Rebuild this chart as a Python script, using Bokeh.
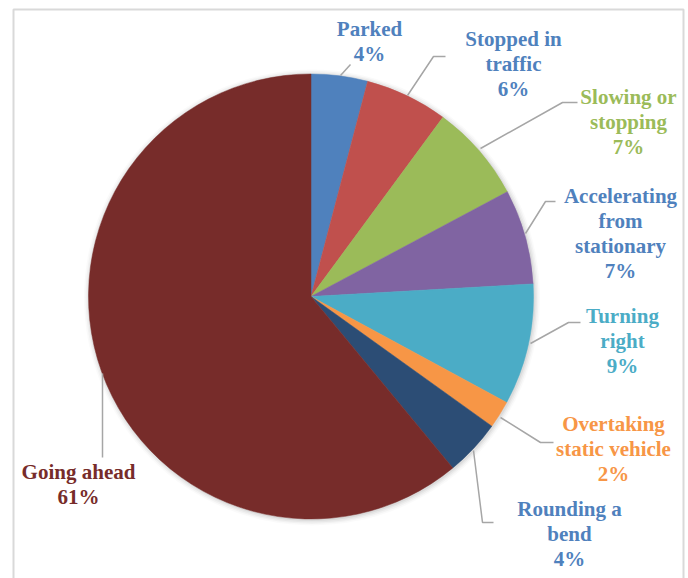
import math
from bokeh.plotting import figure
from bokeh.models import Range1d, ColumnDataSource
from bokeh.core.properties import value
from bokeh.embed import file_html
from bokeh.resources import INLINE

# ---- data ----
categories = ["Parked", "Stopped in traffic", "Slowing or stopping",
              "Accelerating from stationary", "Turning right",
              "Overtaking static vehicle", "Rounding a bend", "Going ahead"]
values = [4.1, 6.0, 7.1, 6.9, 8.8, 2.0, 4.1, 61.0]
slice_colors = ["#4F81BD", "#C0504D", "#9BBB59", "#8064A2", "#4BACC6",
                "#F79646", "#2C4D75", "#772C2A"]
label_lines = [["Parked"], ["Stopped in", "traffic"], ["Slowing or", "stopping"],
               ["Accelerating", "from", "stationary"], ["Turning", "right"],
               ["Overtaking", "static vehicle"], ["Rounding a", "bend"],
               ["Going ahead"]]
label_colors = ["#4F81BD", "#4F81BD", "#9BBB59", "#4F81BD", "#4BACC6",
                "#F79646", "#4F81BD", "#772C2A"]

# ---- layout (screen pixel positions) ----
W, H = 688, 578
def sx(x):
    return x
def sy(y):
    return H - y

CX, CY, R = 310.5, 296, 222.5
label_pos = [(369, 28), (513, 38), (628, 96), (620, 195), (622, 315),
             (613, 423), (569, 508), (78, 471)]
leaders = [
    [(340, 75), (350, 64)],
    [(407, 95), (433, 56), (445, 56)],
    [(480, 148), (562, 102), (577, 102)],
    [(525, 233), (545, 201), (555, 201)],
    [(530, 343), (568, 322), (580, 322)],
    [(500, 417), (540, 442), (553, 442)],
    [(473, 450), (482, 522), (493, 522)],
    [(102, 373), (102, 457)],
]
LINE_H = 25

p = figure(width=W, height=H, output_backend="svg", toolbar_location=None,
           x_range=Range1d(0, W), y_range=Range1d(0, H), min_border=0)
p.axis.visible = False
p.grid.visible = False
p.outline_line_color = None
p.background_fill_color = "white"

# chart border
p.line([sx(13), sx(13), sx(683), sx(683)], [sy(600), sy(9), sy(9), sy(600)],
       line_color="#D9D9D9", line_width=2)

# soft shadow
for i, a in enumerate([0.05, 0.04, 0.03, 0.02]):
    p.circle(x=sx(CX) + 1, y=sy(CY) - 1, radius=R + 1 + i * 1.5,
             fill_color="black", fill_alpha=a, line_color=None)

# wedges
total = sum(values)
starts, ends = [], []
cum = 0.0
for v in values:
    starts.append(math.pi / 2 - 2 * math.pi * cum / total)
    cum += v
    ends.append(math.pi / 2 - 2 * math.pi * cum / total)
src = ColumnDataSource(dict(start=starts, end=ends, color=slice_colors))
p.wedge(x=sx(CX), y=sy(CY), radius=R, start_angle="start", end_angle="end",
        direction="clock", fill_color="color", line_color="color",
        line_width=0.5, source=src)

# leader lines
for pts in leaders:
    p.line([sx(x) for x, _ in pts], [sy(y) for _, y in pts],
           line_color="#A6A6A6", line_width=1.5)

# labels
for lines, v, col, (lx, ly) in zip(label_lines, values, label_colors, label_pos):
    all_lines = lines + [f"{round(v)}%"]
    xs = [sx(lx)] * len(all_lines)
    ys = [sy(ly + i * LINE_H) for i in range(len(all_lines))]
    p.text(x=xs, y=ys, text=all_lines, text_color=col,
           text_font=value("Liberation Serif"), text_font_style="bold",
           text_font_size="21px", text_align="center", text_baseline="middle")

open("out.html", "w").write(file_html(p, INLINE))
